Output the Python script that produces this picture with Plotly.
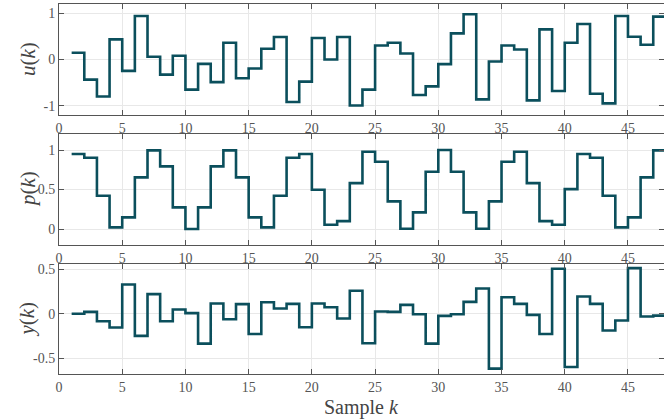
import plotly.graph_objects as go
from plotly.subplots import make_subplots

k = list(range(1, 49))

u_vals = [0.145, -0.435, -0.80, 0.435, -0.246, 0.94, 0.058, -0.326, 0.08, -0.652,
          -0.094, -0.49, 0.362, -0.406, -0.196, 0.232, 0.486, -0.92, -0.478, 0.464,
          0.0, 0.486, -0.993, -0.652, 0.304, 0.362, 0.13, -0.768, -0.58, -0.10,
          0.565, 0.978, -0.862, -0.043, 0.304, 0.217, -0.884, 0.652, -0.681, 0.362,
          0.768, -0.739, -0.949, 0.942, 0.493, 0.319, 0.928, 0.928]

p_vals = [0.949, 0.903, 0.422, 0.021, 0.148, 0.654, 0.996, 0.793, 0.274, 0.0,
          0.274, 0.793, 0.996, 0.654, 0.148, 0.021, 0.422, 0.903, 0.949, 0.498,
          0.055, 0.10, 0.582, 0.979, 0.852, 0.35, 0.004, 0.211, 0.726, 1.0,
          0.726, 0.211, 0.004, 0.35, 0.852, 0.979, 0.582, 0.10, 0.055, 0.506,
          0.949, 0.903, 0.422, 0.021, 0.148, 0.654, 0.996, 0.996]

y_vals = [0.0, 0.02, -0.084, -0.155, 0.328, -0.249, 0.219, -0.084, 0.047, 0.006,
          -0.335, 0.114, -0.062, 0.107, -0.227, 0.129, 0.058, 0.11, -0.152, 0.114,
          0.073, -0.054, 0.257, -0.331, 0.024, 0.021, 0.099, -0.006, -0.335, -0.024,
          -0.006, 0.133, 0.283, -0.616, 0.185, 0.11, -0.013, -0.227, 0.504, -0.597,
          0.193, 0.11, -0.189, -0.077, 0.511, -0.032, -0.021, -0.021]

x_ticks = [0, 5, 10, 15, 20, 25, 30, 35, 40, 45]
u_ticks = [-1, 0, 1]
u_ticktext = ["-1", "0", "1"]
p_ticks = [0, 0.5, 1]
p_ticktext = ["0", "0.5", "1"]
y_ticks = [-0.5, 0, 0.5]
y_ticktext = ["-0.5", "0", "0.5"]

labels = ["<i>u</i>(<i>k</i>)", "<i>p</i>(<i>k</i>)", "<i>y</i>(<i>k</i>)"]

LINE = "#0b4f5c"
FONT = "Liberation Serif"

fig = make_subplots(rows=3, cols=1, shared_xaxes=False)

series = [u_vals, p_vals, y_vals]
for i, s in enumerate(series):
    fig.add_trace(go.Scatter(x=k, y=s, mode="lines", line=dict(shape="hv", color=LINE, width=2.6),
                             showlegend=False), row=i + 1, col=1)

domains = [[0.70, 1.0], [0.349, 0.648], [0.0, 0.297]]
yranges = [[-1.2, 1.2], [-0.2, 1.2], [-0.676, 0.556]]
yticks = [(u_ticks, u_ticktext), (p_ticks, p_ticktext), (y_ticks, y_ticktext)]

axcommon = dict(showline=True, linecolor="#555555", linewidth=1, mirror="ticks",
                ticks="inside", ticklen=5, tickcolor="#555555", tickwidth=1,
                showgrid=True, gridcolor="#e8e8e8", gridwidth=1, zeroline=False,
                tickfont=dict(family=FONT, size=14, color="#555555"))

for i in range(3):
    xa = "xaxis" if i == 0 else f"xaxis{i+1}"
    ya = "yaxis" if i == 0 else f"yaxis{i+1}"
    fig.layout[xa].update(range=[0, 47.85], tickvals=x_ticks, domain=[0, 1], **axcommon)
    fig.layout[ya].update(domain=domains[i], range=yranges[i], tickvals=yticks[i][0],
                          ticktext=yticks[i][1], **axcommon)
    ymid = (domains[i][0] + domains[i][1]) / 2
    fig.add_annotation(text=labels[i], xref="paper", yref="paper", x=-0.052, y=ymid,
                       xanchor="center", yanchor="middle", textangle=-90, showarrow=False,
                       font=dict(family=FONT, size=21, color="#444444"))

fig.add_annotation(text="Sample <i>k</i>", xref="paper", yref="paper", x=0.5, y=-0.09,
                   xanchor="center", yanchor="middle", showarrow=False,
                   font=dict(family=FONT, size=20, color="#444444"))

fig.update_layout(width=664, height=420, margin=dict(l=59, r=0, t=4, b=46),
                  plot_bgcolor="white", paper_bgcolor="white")

fig.write_html("out.html", config={"displayModeBar": False},
               post_script="document.body.style.margin='0';document.body.style.overflow='hidden';")
